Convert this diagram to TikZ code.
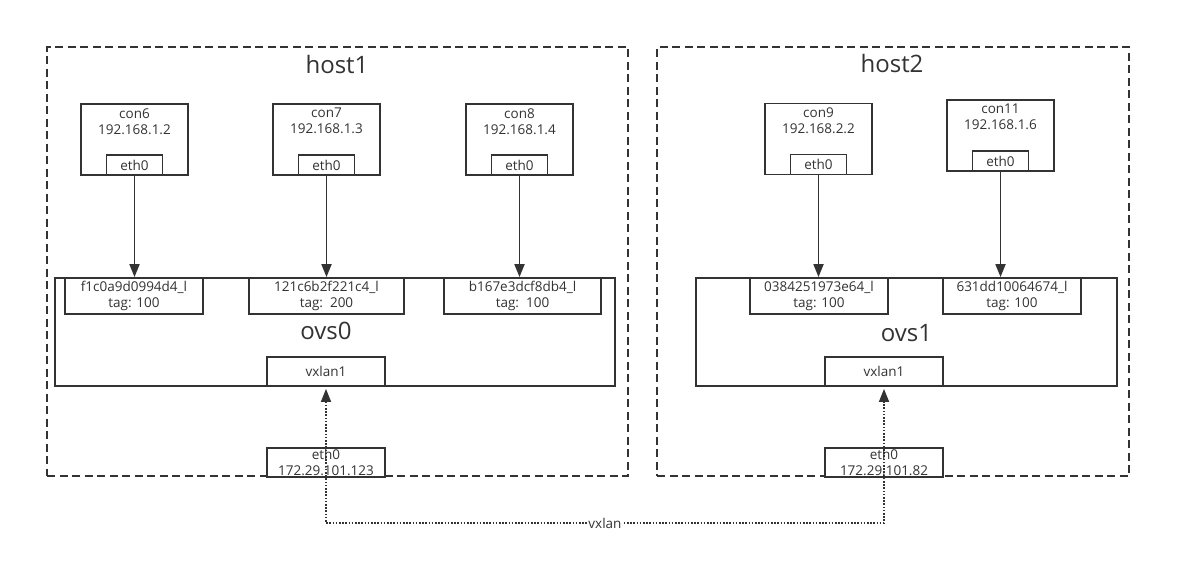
\documentclass[tikz,border=0pt]{standalone}
\usepackage{fontspec}
\setmainfont{Open Sans}
\usepackage{xcolor}
\usetikzlibrary{arrows.meta, positioning}
\definecolor{ink}{HTML}{333333}
\tikzset{
  hostbox/.style={rectangle, draw=ink, line width=1.9pt, dash pattern=on 8pt off 4.5pt},
  box/.style={rectangle, draw=ink, fill=white, line width=1.8pt, inner sep=0pt, align=center, text=ink, font=\fontsize{13.5}{16}\selectfont},
  ctrtext/.style={anchor=north, inner sep=0pt, yshift=-5pt, align=center, text=ink, font=\fontsize{13.5}{16}\selectfont},
  ctr/.style={box, minimum width=107pt, minimum height=71pt, label={[ctrtext]north:{#1}}},
  nic/.style={box, minimum width=56pt, minimum height=20pt},
  port/.style={box, minimum height=36pt},
  iface/.style={box, minimum width=118pt, minimum height=29pt},
  title/.style={text=ink, inner sep=0pt, font=\fontsize{24}{28}\selectfont},
  arrow/.style={-{Triangle[length=13pt,width=10pt]}, line width=1.8pt, draw=ink},
  tunnel/.style={{Triangle[length=13pt,width=10pt]}-{Triangle[length=13pt,width=10pt]}, line width=1.6pt, draw=ink, dash pattern=on 1.6pt off 1.6pt},
}
\begin{document}
\begin{tikzpicture}[x=1pt, y=-1pt]
  \useasboundingbox (0,0) rectangle (1191,584);
  % hosts
  \node[hostbox, minimum width=581pt, minimum height=429pt] (host1) at (337.5,261.5) {};
  \node[hostbox, minimum width=472pt, minimum height=429pt] (host2) at (893,261.5) {};
  \node[title] (host1t) at (337,64) {host1};
  \node[title] (host2t) at (892,63) {host2};
  % containers
  \node[ctr={con6\\192.168.1.2}] (c6) at (134.5,139.5) {};
  \node[ctr={con7\\192.168.1.3}] (c7) at (326.5,139.5) {};
  \node[ctr={con8\\192.168.1.4}] (c8) at (519.5,139.5) {};
  \node[ctr={con9\\192.168.2.2}] (c9) at (818.5,139) {};
  \node[ctr={con11\\192.168.1.6}] (c11) at (1000.5,135.5) {};
  \node[nic, above=0pt of c6.south] (n6) {eth0};
  \node[nic, above=0pt of c7.south] (n7) {eth0};
  \node[nic, above=0pt of c8.south] (n8) {eth0};
  \node[nic, above=0pt of c9.south] (n9) {eth0};
  \node[nic, above=0pt of c11.south] (n11) {eth0};
  % switches
  \node[box, minimum width=560pt, minimum height=108pt] (ovs0) at (335,332) {};
  \node[box, minimum width=421pt, minimum height=108pt] (ovs1) at (906.5,332) {};
  \node[title] at (326,331) {ovs0};
  \node[title] at (906.5,333) {ovs1};
  \node[port, minimum width=138pt] (p6) at (134,296) {f1c0a9d0994d4\_l\\tag: 100};
  \node[port, minimum width=155pt] (p7) at (326.5,296) {121c6b2f221c4\_l\\tag:\ \ 200};
  \node[port, minimum width=157pt] (p8) at (522.5,296) {b167e3dcf8db4\_l\\tag:\ \ 100};
  \node[port, minimum width=138pt] (p9) at (819,296) {0384251973e64\_l\\tag: 100};
  \node[port, minimum width=138pt] (p11) at (1012,296) {631dd10064674\_l\\tag: 100};
  \node[iface] (vx1) at (326,371.5) {vxlan1};
  \node[iface] (vx2) at (884,371.5) {vxlan1};
  \node[iface] (ip1) at (326,462.5) {eth0\\172.29.101.123};
  \node[iface] (ip2) at (884,462.5) {eth0\\172.29.101.82};
  % links
  \draw[arrow] (n6) -- (n6.south |- p6.north);
  \draw[arrow] (n7) -- (n7.south |- p7.north);
  \draw[arrow] (n8) -- (n8.south |- p8.north);
  \draw[arrow] (n9) -- (n9.south |- p9.north);
  \draw[arrow] (n11) -- (n11.south |- p11.north);
  \coordinate (low) at (0,523);
  \draw[tunnel, shorten <=2pt, shorten >=2pt] (vx1.south) -- (vx1.south |- low) -- node[fill=white, inner sep=1pt, text=ink, font=\fontsize{13.5}{16}\selectfont] {vxlan} (vx2.south |- low) -- (vx2.south);
\end{tikzpicture}
\end{document}
